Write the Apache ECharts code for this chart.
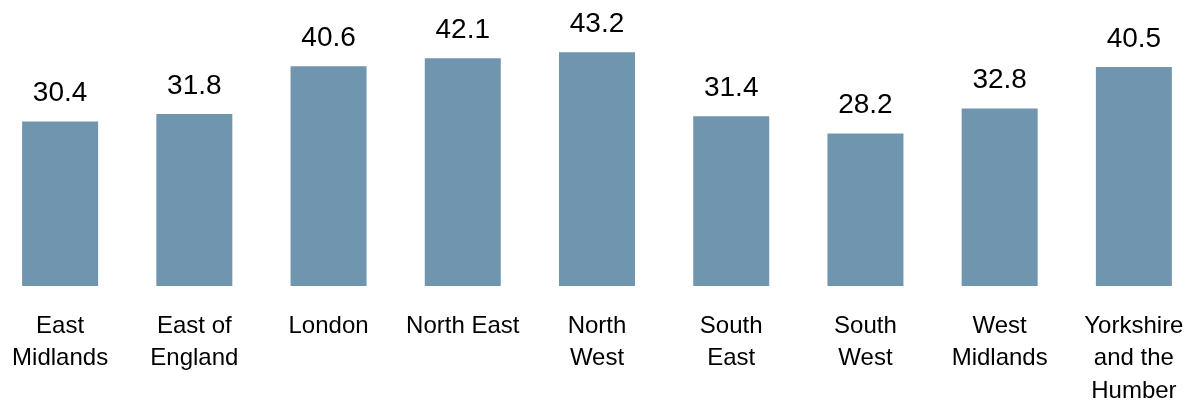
<!DOCTYPE html>
<html>
<head>
<meta charset="utf-8">
<script src="https://cdn.jsdelivr.net/npm/echarts@6/dist/echarts.min.js"></script>
<style>
  html, body { margin: 0; padding: 0; background: #fff; }
  #chart { width: 1199px; height: 403px; }
</style>
</head>
<body>
<div id="chart"></div>
<script>
// regions (tick labels, with line breaks as in the picture)
const regions = [
  'East\nMidlands',
  'East of\nEngland',
  'London',
  'North East',
  'North\nWest',
  'South\nEast',
  'South\nWest',
  'West\nMidlands',
  'Yorkshire\nand the\nHumber'
];
const values = [30.4, 31.8, 40.6, 42.1, 43.2, 31.4, 28.2, 32.8, 40.5];

const chart = echarts.init(document.getElementById('chart'));
chart.setOption({
  animation: false,
  grid: {
    left: -7,
    right: -2,
    top: 15.5,
    bottom: 117,
    outerBoundsMode: 'none'
  },
  xAxis: {
    type: 'category',
    data: regions,
    axisLine: { show: false },
    axisTick: { show: false },
    axisLabel: {
      interval: 0,
      margin: 24,
      color: '#000',
      fontFamily: 'Liberation Sans, Arial, sans-serif',
      fontSize: 24,
      lineHeight: 32.5
    }
  },
  yAxis: {
    type: 'value',
    min: 0,
    max: 50,
    show: false,
    splitLine: { show: false }
  },
  series: [
    {
      type: 'bar',
      data: values,
      barWidth: 76,
      itemStyle: { color: '#7095AE' },
      label: {
        show: true,
        position: 'top',
        distance: 14,
        color: '#000',
        fontFamily: 'Liberation Sans, Arial, sans-serif',
        fontSize: 28,
        formatter: p => p.value.toFixed(1)
      }
    }
  ]
});
</script>
</body>
</html>
